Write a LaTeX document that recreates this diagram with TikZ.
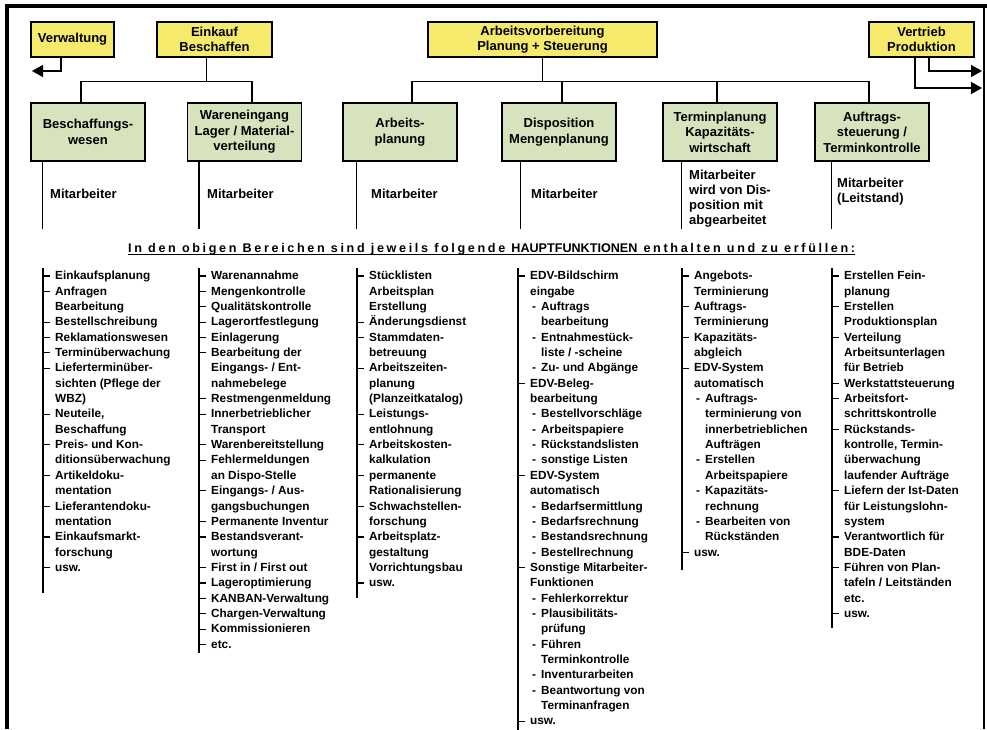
\documentclass[tikz,border=0pt]{standalone}
\usepackage{fontspec}
\setmainfont{Liberation Sans}
\usepackage{tikz}
\usetikzlibrary{
    arrows.meta,
    positioning
}
\definecolor{boxyellow}{RGB}{245,234,108}
\definecolor{boxgreen}{RGB}{215,227,188}
\tikzset{
    ybox/.style={draw, line width=1.3pt, fill=boxyellow, minimum height=35pt, inner sep=0pt, align=center, font=\fontsize{13}{15.5}\selectfont\bfseries},
    gbox/.style={draw, line width=1.3pt, fill=boxgreen, minimum width=114pt, minimum height=58pt, inner sep=0pt, align=center, font=\fontsize{13}{15.5}\selectfont\bfseries},
    conn/.style={line width=1.5pt},
    arr/.style={line width=1.5pt, -{Triangle[length=11pt,width=12pt]}},
    mitext/.style={anchor=west, inner sep=0pt, align=left, font=\fontsize{13}{15}\selectfont\bfseries},
    list/.style={anchor=north west, inner sep=0pt, align=left, font=\fontsize{11.8}{15.35}\selectfont\bfseries}
}
\newcommand{\itm}{\llap{\rule[3.2pt]{6.5pt}{1.1pt}\hspace{5.5pt}}}
\newcommand{\subitm}{\makebox[11pt][l]{\hspace{2pt}-}}
\newcommand{\subind}{\hspace*{11pt}}

\begin{document}
\begin{tikzpicture}[x=1pt, y=-1pt]
    \useasboundingbox (0,0) rectangle (987,729);
    \draw[line width=4pt] (7,729) -- (7,6) -- (987,6);
    \draw[line width=1.2pt] (984,6) -- (984,729);

    % top row
    \node[ybox, minimum width=83pt] (verw) at (72.5,39.5) {Verwaltung};
    \node[ybox, minimum width=115pt] (einkauf) at (214.5,39.5) {Einkauf\\Beschaffen};
    \node[ybox, minimum width=229pt] (av) at (542.5,39.5) {Arbeitsvorbereitung\\Planung + Steuerung};
    \node[ybox, minimum width=105pt] (vertrieb) at (921.5,39.5) {Vertrieb\\Produktion};

    % second row
    \node[gbox] (besch) at (88,132) {Beschaffungs-\\wesen};
    \node[gbox] (waren) at (244.5,132) {Wareneingang\\Lager / Material-\\verteilung};
    \node[gbox] (aplan) at (400,132) {Arbeits-\\planung};
    \node[gbox] (dispo) at (559,132) {Disposition\\Mengenplanung};
    \node[gbox] (termin) at (720,132) {Terminplanung\\Kapazitäts-\\wirtschaft};
    \node[gbox] (auftrag) at (872,132) {Auftrags-\\steuerung /\\Terminkontrolle};

    \coordinate (vwend) at (32,71);
    \coordinate (vtend1) at (982,71);
    \coordinate (vtend2) at (982,88);
    \draw[arr] ([xshift=-11.5pt]verw.south) |- (vwend);
    \draw[arr] ([xshift=7.5pt]vertrieb.south) |- (vtend1);
    \draw[arr] ([xshift=-6.5pt]vertrieb.south) |- (vtend2);

    \draw[conn] ([xshift=-8pt]einkauf.south) -- ++(0,24) -| ([xshift=-7pt]besch.north);
    \draw[conn] ([xshift=-8pt]einkauf.south) -- ++(0,24) -| ([xshift=7.5pt]waren.north);
    \draw[conn] (av.south) -- ++(0,24) -| ([xshift=12pt]aplan.north);
    \draw[conn] (av.south) -- ++(0,24) -| ([xshift=3pt]dispo.north);
    \draw[conn] (av.south) -- ++(0,24) -| ([xshift=-3pt]termin.north);
    \draw[conn] (av.south) -- ++(0,24) -| ([xshift=-3pt]auftrag.north);

    % Mitarbeiter
    \draw[conn] ([xshift=12pt]besch.south west) -- ++(0,67);
    \draw[conn] ([xshift=12pt]waren.south west) -- ++(0,67);
    \draw[conn] ([xshift=14pt]aplan.south west) -- ++(0,67);
    \draw[conn] ([xshift=19pt]dispo.south west) -- ++(0,67);
    \draw[conn] ([xshift=19pt]termin.south west) -- ++(0,67);
    \draw[conn] ([xshift=17pt]auftrag.south west) -- ++(0,67);
    \node[mitext] (mbesch) at (50,194) {Mitarbeiter};
    \node[mitext] (mwaren) at (207,194) {Mitarbeiter};
    \node[mitext] (maplan) at (371,194) {Mitarbeiter};
    \node[mitext] (mdispo) at (531,194) {Mitarbeiter};
    \node[mitext] (mtermin) at (689,198.5) {Mitarbeiter\\wird von Dis-\\position mit\\abgearbeitet};
    \node[mitext] (mauftrag) at (837,191.5) {Mitarbeiter\\(Leitstand)};

    \node[anchor=base west, inner sep=0pt, font=\fontsize{12.6}{15}\selectfont\bfseries\addfontfeatures{LetterSpace=21}] (hd) at (128,252)
        {In den obigen Bereichen sind jeweils folgende\ {\addfontfeatures{LetterSpace=0}HAUPTFUNKTIONEN}\ enthalten und zu erfüllen:};
    \draw[line width=1.3pt] ([yshift=-2.5pt]hd.base west) -- ([yshift=-2.5pt]hd.base east);

    % lists
    \node[list] (lbesch) at (55,271) {\itm Einkaufsplanung\\ \itm Anfragen\\ Bearbeitung\\ \itm Bestellschreibung\\
        \itm Reklamationswesen\\ \itm Terminüberwachung\\ \itm Lieferterminüber-\\ sichten (Pflege der\\ WBZ)\\
        \itm Neuteile,\\ Beschaffung\\ \itm Preis- und Kon-\\ ditionsüberwachung\\ \itm Artikeldoku-\\ mentation\\
        \itm Lieferantendoku-\\ mentation\\ \itm Einkaufsmarkt-\\ forschung\\ \itm usw.};
    \node[list] (lwaren) at (211,271) {\itm Warenannahme\\ \itm Mengenkontrolle\\ \itm Qualitätskontrolle\\
        \itm Lagerortfestlegung\\ \itm Einlagerung\\ \itm Bearbeitung der\\ Eingangs- / Ent-\\ nahmebelege\\
        \itm Restmengenmeldung\\ \itm Innerbetrieblicher\\ Transport\\ \itm Warenbereitstellung\\
        \itm Fehlermeldungen\\ an Dispo-Stelle\\ \itm Eingangs- / Aus-\\ gangsbuchungen\\ \itm Permanente Inventur\\
        \itm Bestandsverant-\\ wortung\\ \itm First in / First out\\ \itm Lageroptimierung\\ \itm KANBAN-Verwaltung\\
        \itm Chargen-Verwaltung\\ \itm Kommissionieren\\ \itm etc.};
    \node[list] (laplan) at (369,271) {\itm Stücklisten\\ Arbeitsplan\\ Erstellung\\ \itm Änderungsdienst\\
        \itm Stammdaten-\\ betreuung\\ \itm Arbeitszeiten-\\ planung\\ (Planzeitkatalog)\\ \itm Leistungs-\\ entlohnung\\
        \itm Arbeitskosten-\\ kalkulation\\ \itm permanente\\ Rationalisierung\\ \itm Schwachstellen-\\ forschung\\
        \itm Arbeitsplatz-\\ gestaltung\\ Vorrichtungsbau\\ \itm usw.};
    \node[list] (ldispo) at (530,271) {\itm EDV-Bildschirm\\ eingabe\\ \subitm Auftrags\\ \subind bearbeitung\\
        \subitm Entnahmestück-\\ \subind liste / -scheine\\ \subitm Zu- und Abgänge\\ \itm EDV-Beleg-\\ bearbeitung\\
        \subitm Bestellvorschläge\\ \subitm Arbeitspapiere\\ \subitm Rückstandslisten\\ \subitm sonstige Listen\\
        \itm EDV-System\\ automatisch\\ \subitm Bedarfsermittlung\\ \subitm Bedarfsrechnung\\ \subitm Bestandsrechnung\\
        \subitm Bestellrechnung\\ \itm Sonstige Mitarbeiter-\\ Funktionen\\ \subitm Fehlerkorrektur\\
        \subitm Plausibilitäts-\\ \subind prüfung\\ \subitm Führen\\ \subind Terminkontrolle\\ \subitm Inventurarbeiten\\
        \subitm Beantwortung von\\ \subind Terminanfragen\\ \itm usw.};
    \node[list] (ltermin) at (694,271) {\itm Angebots-\\ Terminierung\\ \itm Auftrags-\\ Terminierung\\
        \itm Kapazitäts-\\ abgleich\\ \itm EDV-System\\ automatisch\\ \subitm Auftrags-\\ \subind terminierung von\\
        \subind innerbetrieblichen\\ \subind Aufträgen\\ \subitm Erstellen\\ \subind Arbeitspapiere\\
        \subitm Kapazitäts-\\ \subind rechnung\\ \subitm Bearbeiten von\\ \subind Rückständen\\ \itm usw.};
    \node[list] (lauftrag) at (844,271) {\itm Erstellen Fein-\\ planung\\ \itm Erstellen\\ Produktionsplan\\
        \itm Verteilung\\ Arbeitsunterlagen\\ für Betrieb\\ \itm Werkstattsteuerung\\ \itm Arbeitsfort-\\
        schrittskontrolle\\ \itm Rückstands-\\ kontrolle, Termin-\\ überwachung\\ laufender Aufträge\\
        \itm Liefern der Ist-Daten\\ für Leistungslohn-\\ system\\ \itm Verantwortlich für\\ BDE-Daten\\
        \itm Führen von Plan-\\ tafeln / Leitständen\\ etc.\\ \itm usw.};
    \draw[conn] ([xshift=-12pt,yshift=3pt]lbesch.north west) -- ++(0,325);
    \draw[conn] ([xshift=-12pt,yshift=3pt]lwaren.north west) -- ++(0,385);
    \draw[conn] ([xshift=-12pt,yshift=3pt]laplan.north west) -- ++(0,330);
    \draw[conn] ([xshift=-12pt,yshift=3pt]ldispo.north west) -- ++(0,462);
    \draw[conn] ([xshift=-12pt,yshift=3pt]ltermin.north west) -- ++(0,302);
    \draw[conn] ([xshift=-12pt,yshift=3pt]lauftrag.north west) -- ++(0,360);
\end{tikzpicture}
\end{document}
